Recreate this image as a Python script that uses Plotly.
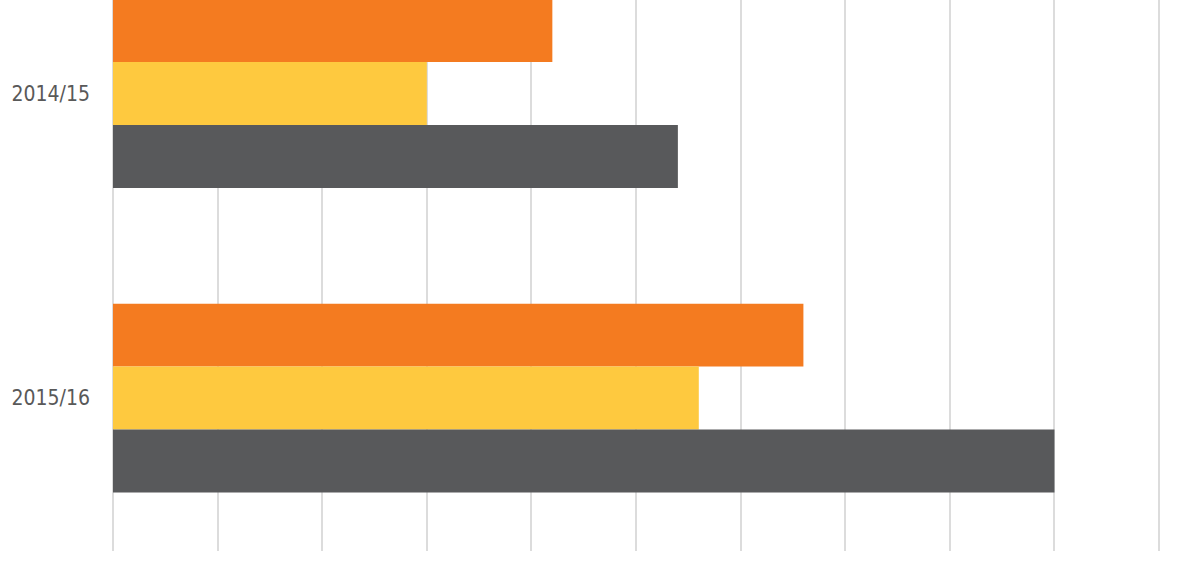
import plotly.graph_objects as go

years = ['2014/15', '2015/16']
orange_vals = [4.2, 6.6]
yellow_vals = [3.0, 5.6]
grey_vals = [5.4, 9.0]

colors = {'orange': '#F47B20', 'yellow': '#FEC93F', 'grey': '#58595B'}

fig = go.Figure()
for name, vals in [('orange', orange_vals), ('yellow', yellow_vals), ('grey', grey_vals)]:
    fig.add_trace(go.Bar(
        y=years,
        x=vals,
        name=name,
        orientation='h',
        marker=dict(color=colors[name], line_width=0),
    ))

fig.update_layout(
    width=1200,
    height=565,
    margin=dict(l=111, r=20, t=0, b=14, pad=0),
    barmode='group',
    bargap=0.38,
    bargroupgap=0,
    showlegend=False,
    plot_bgcolor='white',
    paper_bgcolor='white',
    font=dict(family='DejaVu Sans Condensed, Liberation Sans, sans-serif', size=21, color='#595959'),
    xaxis=dict(
        range=[-0.019, 10.2],
        dtick=1,
        showgrid=True,
        gridcolor='#DCDCDC',
        gridwidth=1.5,
        zeroline=False,
        showticklabels=False,
        automargin=False,
    ),
    yaxis=dict(
        type='category',
        range=[1.502, -0.307],
        showgrid=False,
        zeroline=False,
        ticks='',
        ticklabelstandoff=20,
        automargin=False,
    ),
)

# page body has an 8px default margin, drop it so the chart sits at the corner
fig.write_html('out.html', config={'displayModeBar': False},
               post_script="document.body.style.margin='0';")
